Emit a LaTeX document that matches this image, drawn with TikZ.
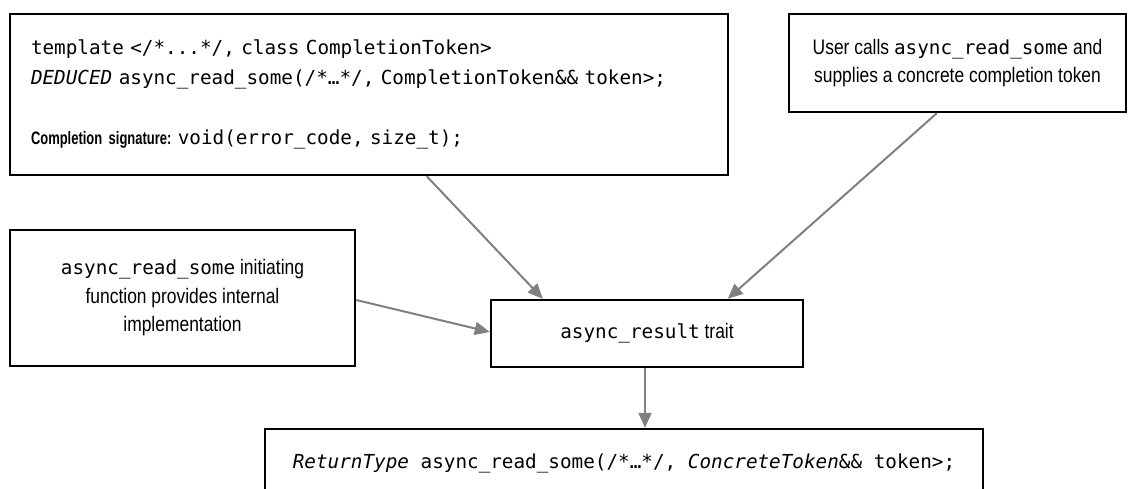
\documentclass[tikz,border=0pt]{standalone}
\usepackage{fontspec}
\setmainfont{Liberation Sans}[FakeStretch=0.83]
\setmonofont{DejaVu Sans Mono}
\newfontfamily\boldnarrow{Liberation Sans Bold}[FakeStretch=0.72]
\usetikzlibrary{arrows.meta}
\definecolor{arrgray}{HTML}{808080}
\newcommand{\cd}[1]{{\ttfamily\fontsize{19.3pt}{30pt}\selectfont #1}}
\tikzset{
  box/.style={draw=black, line width=2.5pt, inner sep=0pt, fill=white},
  arr/.style={draw=arrgray, line width=2pt, -{Triangle[length=15pt,width=13pt]}},
  sanstxt/.style={font=\fontsize{21pt}{28.5pt}\selectfont}
}
\begin{document}
\begin{tikzpicture}[x=1pt,y=-1pt]
\useasboundingbox (0,0) rectangle (1128,488);
\fill[white] (0,0) rectangle (1128,488);

\node[box, minimum width=718pt, minimum height=161pt, text width=676pt, align=left,
      font=\fontsize{19.3pt}{30pt}\selectfont] (tl) at (369,94.5)
  {\cd{template </*...*/, class CompletionToken>}\\
   \cd{\textit{DEDUCED} async\_read\_some(/*…*/, CompletionToken\&\& token>;}\\[30pt]
   {\boldnarrow\fontsize{18pt}{30pt}\selectfont Completion signature:}\ \cd{void(error\_code, size\_t);}};

\node[box, sanstxt, minimum width=337pt, minimum height=98pt, align=center] (tr) at (957.5,63)
  {User calls \cd{async\_read\_some} and\\supplies a concrete completion token};

\node[box, sanstxt, minimum width=345pt, minimum height=136pt, align=center] (lm) at (182.5,298)
  {\cd{async\_read\_some} initiating\\function provides internal\\implementation};

\node[box, sanstxt, minimum width=312pt, minimum height=67pt, align=center] (c) at (647,333.5)
  {\cd{async\_result} trait};

\node[box, minimum width=718pt, minimum height=68pt, align=center] (b) at (624,463)
  {\cd{\textit{ReturnType} async\_read\_some(/*…*/, \textit{ConcreteToken}\&\& token>;}};

\draw[arr] ([xshift=418pt]tl.south west) -- ([xshift=53pt]c.north west);
\draw[arr] ([xshift=149pt]tr.south west) -- ([xshift=238pt]c.north west);
\draw[arr] ([yshift=-2pt]lm.east) -- ([yshift=1.5pt]c.west);
\draw[arr] ([xshift=-2pt]c.south) -- ([xshift=-2pt]c.south |- b.north);
\end{tikzpicture}
\end{document}
